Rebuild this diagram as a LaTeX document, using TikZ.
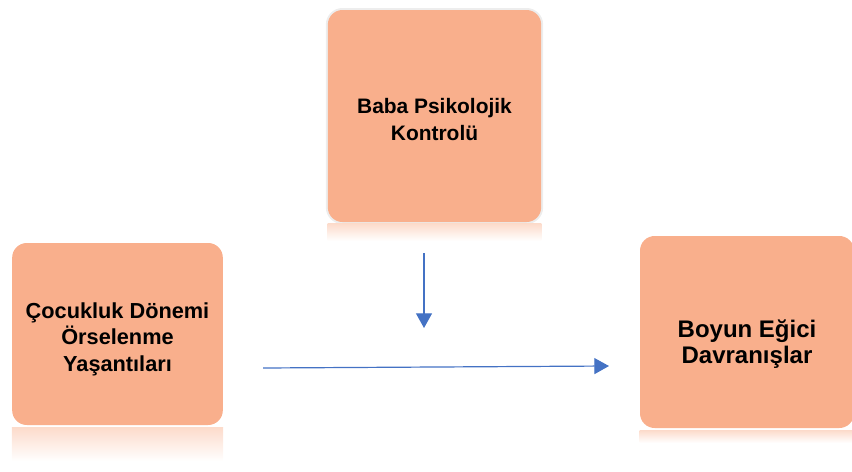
\documentclass[tikz,border=0pt]{standalone}
\usepackage{fontspec}
\setmainfont{Liberation Sans}
\usetikzlibrary{positioning, arrows.meta}
\definecolor{somon}{RGB}{249,175,140}
\definecolor{okmavi}{RGB}{68,114,196}
\tikzset{
	x=0.75pt, y=-0.75pt, % one unit is one pixel of the layout
	kutu/.style={fill=somon, rounded corners=11pt}, % the salmon boxes
	yazi/.style={align=center, font=\bfseries\fontsize{#1}{20}\selectfont}, % text inside a box
	parilti/.style={preaction={draw=black!7, line width=3pt}}, % grey rim of the top box
	yansima/.style={top color=somon!45, bottom color=white, draw=none}, % faded mirror under a box
	ok/.style={draw=okmavi, line width=0.9pt, -{Triangle[width=12pt,length=11pt]}}, % blue arrows
}
\begin{document}
\begin{tikzpicture}
	\useasboundingbox (0,0) rectangle (852,471);
			\node[kutu, parilti, minimum width=160pt, minimum height=159pt,
				label={[yazi=15.7, yshift=-2.5pt]center:Baba Psikolojik\\Kontrolü}] (baba) at (434.5,116) {};
			\node[kutu, minimum width=158pt, minimum height=136.5pt,
				label={[yazi=16.3, yshift=-4pt]center:Çocukluk Dönemi\\Örselenme\\Yaşantıları}] (cocukluk) at (117.5,334) {};
			\node[kutu, minimum width=160.5pt, minimum height=144pt,
				label={[yazi=18, yshift=-9pt]center:Boyun Eğici\\Davranışlar}] (boyun) at (747,332) {};
	\shade[yansima] ([yshift=-1pt]baba.south west) rectangle ([yshift=-14pt]baba.south east);
	\shade[yansima] ([yshift=-1.5pt]cocukluk.south west) rectangle ([yshift=-27pt]cocukluk.south east);
	\shade[yansima] ([yshift=-1.5pt]boyun.south west) rectangle ([yshift=-11pt]boyun.south east);
			\coordinate (v1) at (424,253);
			\coordinate (v2) at (424,328);
			\coordinate (h1) at (263,368);
			\coordinate (h2) at (609,366);
	\draw[ok] (v1) -- (v2);
	\draw[ok] (h1) -- (h2);
\end{tikzpicture}
\end{document}
